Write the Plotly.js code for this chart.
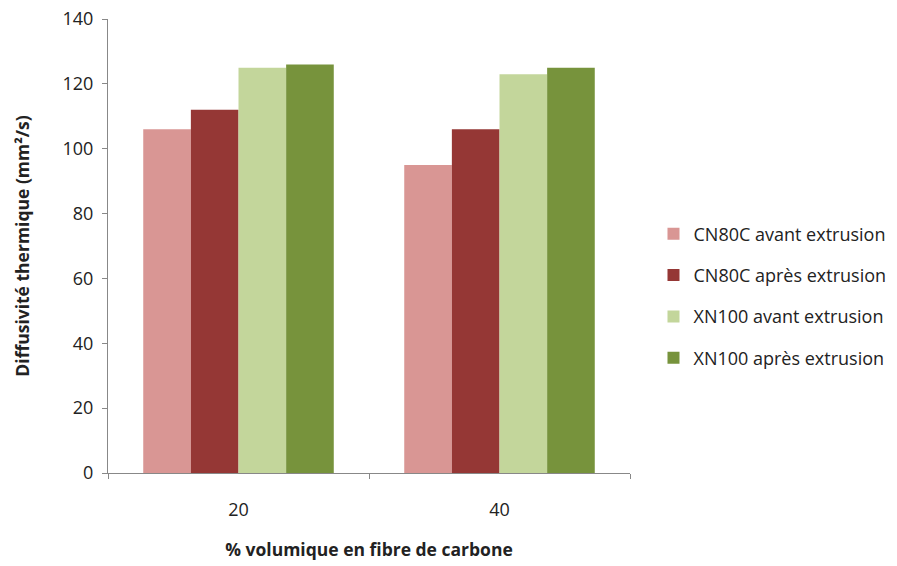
<!DOCTYPE html>
<html><head><meta charset="utf-8">
<script src="https://cdn.plot.ly/plotly-3.0.1.min.js"></script>
<style>body{margin:0}#c{width:897px;height:566px}</style>
</head><body><div id="c"></div>
<script>
const categories = ["20", "40"];
const seriesNames = ["CN80C avant extrusion", "CN80C après extrusion", "XN100 avant extrusion", "XN100 après extrusion"];
const cn80cAvant = [106, 95];
const cn80cApres = [112, 106];
const xn100Avant = [125, 123];
const xn100Apres = [126, 125];
const colors = ["#D99694", "#953735", "#C3D69B", "#77933C"];
const values = [cn80cAvant, cn80cApres, xn100Avant, xn100Apres];

const traces = values.map((v, i) => ({
  type: "bar", x: categories, y: v, name: seriesNames[i],
  marker: {color: colors[i]}, legendgroup: "g" + i
}));
const font = "Open Sans, Liberation Sans, sans-serif";
Plotly.newPlot("c", traces, {
  width: 897, height: 566,
  margin: {l: 108, r: 267, t: 19, b: 93, autoexpand: false},
  paper_bgcolor: "#fff", plot_bgcolor: "#fff",
  barmode: "group", bargap: 0.27, bargroupgap: 0,
  font: {family: font, size: 16, color: "#222"},
  xaxis: {type: "category", showline: true, linecolor: "#888", ticks: "outside", ticklen: 5, tickcolor: "#888",
    tickson: "boundaries", ticklabelstandoff: 20, tickfont: {size: 18},
    title: {text: "<b>% volumique en fibre de carbone</b>", font: {size: 17.5}, standoff: 24}},
  yaxis: {range: [0, 140], dtick: 20, showgrid: false, zeroline: false, showline: true, linecolor: "#888",
    ticks: "outside", ticklen: 5, tickcolor: "#888", tickfont: {size: 18}, ticklabelstandoff: 5,
    title: {text: "<b>Diffusivité thermique (mm²/s)</b>", font: {size: 17.5}, standoff: 28}},
  legend: {x: 1.045, y: 0.39, xanchor: "left", yanchor: "middle", font: {size: 18}, tracegroupgap: 15,
    itemwidth: 30, traceorder: "grouped"},
  showlegend: true
}, {displayModeBar: false});
</script></body></html>
